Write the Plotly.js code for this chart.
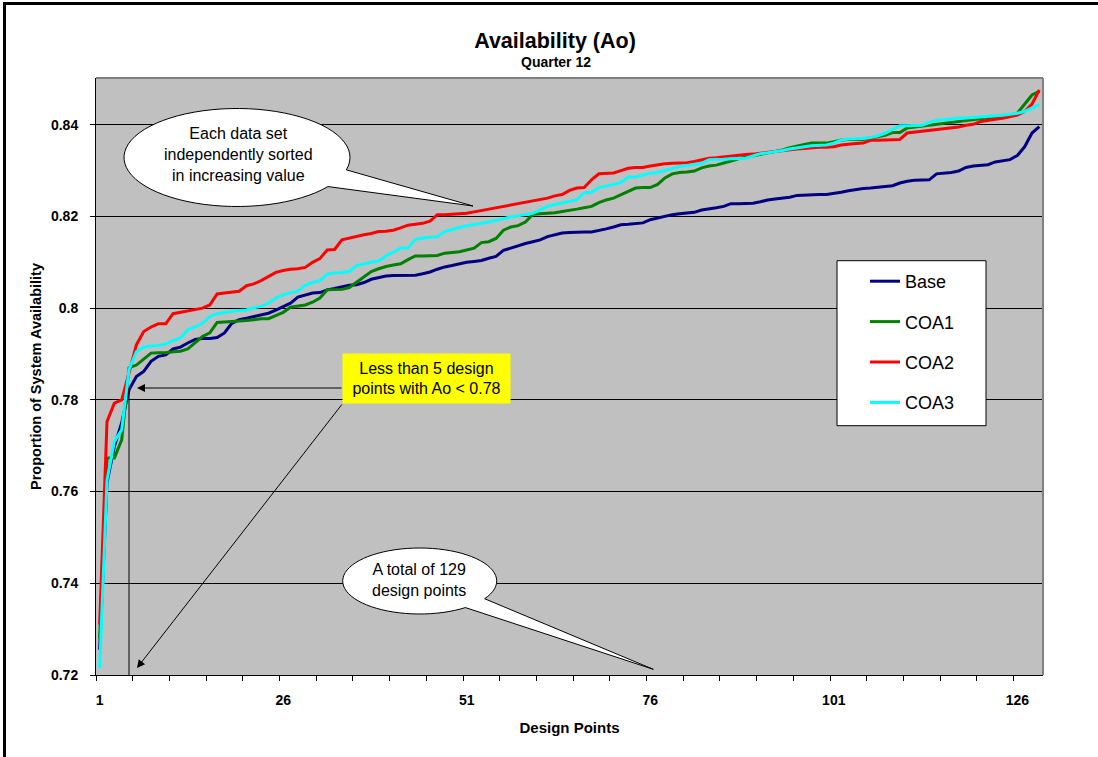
<!DOCTYPE html>
<html><head><meta charset="utf-8">
<script src="https://cdn.plot.ly/plotly-3.0.1.min.js"></script>
<style>
html,body{margin:0;padding:0;background:#fff;overflow:hidden;}
#chart{width:1098px;height:757px;}
#frame{position:absolute;left:3px;top:2px;width:1095px;height:755px;border-top:3px solid #000;border-left:3px solid #000;pointer-events:none;box-sizing:border-box;}
</style>
</head><body>
<div id="chart"></div><div id="frame"></div>
<script>
// ---------------- DATA ----------------
const designPoints = Array.from({length: 129}, (_, i) => i + 1);
const xTickLabels = [1, 26, 51, 76, 101, 126];
const yTickValues = [0.72, 0.74, 0.76, 0.78, 0.80, 0.82, 0.84];
const yTickLabels = ['0.72', '0.74', '0.76', '0.78', '0.8', '0.82', '0.84'];
const seriesNames = ['Base', 'COA1', 'COA2', 'COA3'];

const base = [0.7255,0.7620,0.7698,0.7750,0.7822,0.7851,0.7862,0.7884,0.7895,0.7898,
0.7911,0.7915,0.7924,0.7932,0.7934,0.7934,0.7936,0.7946,0.7967,0.7975,
0.7978,0.7982,0.7986,0.7989,0.7996,0.8004,0.8011,0.8024,0.8029,0.8033,
0.8034,0.8040,0.8043,0.8047,0.8050,0.8051,0.8056,0.8063,0.8067,0.8070,
0.8071,0.8071,0.8071,0.8072,0.8075,0.8079,0.8085,0.8090,0.8093,0.8097,
0.8100,0.8102,0.8104,0.8109,0.8113,0.8126,0.8131,0.8137,0.8141,0.8145,
0.8149,0.8156,0.8160,0.8164,0.8165,0.8166,0.8166,0.8166,0.8169,0.8173,
0.8177,0.8182,0.8183,0.8185,0.8186,0.8193,0.8197,0.8200,0.8204,0.8206,
0.8207,0.8209,0.8214,0.8216,0.8219,0.8222,0.8228,0.8228,0.8229,0.8229,
0.8232,0.8236,0.8238,0.8240,0.8242,0.8246,0.8247,0.8247,0.8248,0.8248,
0.8250,0.8253,0.8256,0.8259,0.8261,0.8262,0.8264,0.8265,0.8267,0.8273,
0.8277,0.8279,0.8280,0.8280,0.8293,0.8294,0.8296,0.8299,0.8307,0.8310,
0.8312,0.8313,0.8319,0.8322,0.8324,0.8333,0.8352,0.8382,0.8396];

const coa1 = [0.7280,0.7673,0.7673,0.7713,0.7870,0.7876,0.7889,0.7902,0.7903,0.7903,
0.7905,0.7906,0.7911,0.7924,0.7938,0.7946,0.7969,0.7970,0.7971,0.7971,
0.7973,0.7975,0.7977,0.7977,0.7984,0.7991,0.8002,0.8004,0.8007,0.8013,
0.8022,0.8040,0.8040,0.8041,0.8045,0.8057,0.8070,0.8080,0.8086,0.8091,
0.8094,0.8097,0.8106,0.8114,0.8114,0.8115,0.8115,0.8120,0.8122,0.8123,
0.8127,0.8131,0.8143,0.8145,0.8152,0.8170,0.8177,0.8180,0.8188,0.8205,
0.8206,0.8207,0.8208,0.8211,0.8213,0.8216,0.8219,0.8222,0.8230,0.8236,
0.8240,0.8247,0.8255,0.8262,0.8263,0.8263,0.8270,0.8284,0.8293,0.8296,
0.8297,0.8299,0.8306,0.8310,0.8312,0.8316,0.8321,0.8326,0.8329,0.8332,
0.8335,0.8338,0.8341,0.8345,0.8350,0.8354,0.8357,0.8360,0.8360,0.8360,
0.8363,0.8367,0.8368,0.8368,0.8368,0.8371,0.8374,0.8377,0.8383,0.8383,
0.8393,0.8395,0.8397,0.8400,0.8402,0.8404,0.8406,0.8408,0.8410,0.8411,
0.8413,0.8415,0.8417,0.8419,0.8421,0.8425,0.8444,0.8465,0.8473];

const coa2 = [0.7310,0.7753,0.7793,0.7800,0.7859,0.7920,0.7949,0.7959,0.7966,0.7966,
0.7988,0.7991,0.7994,0.7998,0.8000,0.8007,0.8031,0.8033,0.8035,0.8037,
0.8049,0.8053,0.8060,0.8069,0.8078,0.8082,0.8085,0.8086,0.8089,0.8100,
0.8108,0.8127,0.8128,0.8149,0.8153,0.8156,0.8160,0.8163,0.8167,0.8168,
0.8170,0.8175,0.8181,0.8183,0.8185,0.8190,0.8204,0.8204,0.8205,0.8205,
0.8207,0.8210,0.8213,0.8216,0.8219,0.8221,0.8224,0.8227,0.8230,0.8233,
0.8236,0.8240,0.8245,0.8248,0.8257,0.8262,0.8263,0.8280,0.8293,0.8294,
0.8295,0.8300,0.8305,0.8307,0.8307,0.8310,0.8313,0.8315,0.8316,0.8316,
0.8317,0.8320,0.8324,0.8327,0.8328,0.8330,0.8331,0.8333,0.8335,0.8336,
0.8338,0.8339,0.8341,0.8343,0.8345,0.8347,0.8348,0.8350,0.8351,0.8351,
0.8352,0.8356,0.8358,0.8359,0.8360,0.8366,0.8366,0.8367,0.8367,0.8368,
0.8382,0.8384,0.8386,0.8388,0.8390,0.8391,0.8393,0.8395,0.8399,0.8401,
0.8407,0.8410,0.8412,0.8414,0.8417,0.8421,0.8429,0.8445,0.8476];

const coa3 = [0.7215,0.7625,0.7709,0.7735,0.7866,0.7905,0.7915,0.7918,0.7918,0.7922,
0.7929,0.7935,0.7953,0.7959,0.7967,0.7982,0.7988,0.7991,0.7993,0.7995,
0.7996,0.8001,0.8004,0.8011,0.8022,0.8029,0.8034,0.8037,0.8050,0.8056,
0.8060,0.8074,0.8077,0.8078,0.8080,0.8093,0.8097,0.8100,0.8103,0.8114,
0.8122,0.8131,0.8131,0.8150,0.8153,0.8155,0.8156,0.8167,0.8172,0.8176,
0.8180,0.8182,0.8185,0.8188,0.8191,0.8195,0.8199,0.8201,0.8204,0.8207,
0.8214,0.8222,0.8226,0.8229,0.8232,0.8236,0.8252,0.8253,0.8263,0.8266,
0.8270,0.8274,0.8286,0.8286,0.8290,0.8294,0.8296,0.8300,0.8305,0.8309,
0.8311,0.8313,0.8316,0.8324,0.8324,0.8325,0.8326,0.8327,0.8327,0.8332,
0.8337,0.8339,0.8341,0.8344,0.8347,0.8350,0.8352,0.8354,0.8355,0.8356,
0.8360,0.8367,0.8369,0.8369,0.8370,0.8372,0.8376,0.8382,0.8390,0.8398,
0.8398,0.8399,0.8399,0.8405,0.8410,0.8411,0.8413,0.8414,0.8415,0.8416,
0.8418,0.8419,0.8420,0.8421,0.8423,0.8425,0.8429,0.8436,0.8444];

const seriesColors = ['#000080', '#008000', '#FF0000', '#00FFFF'];

// ---------------- LAYOUT HELPERS ----------------
const W = 1098, H = 757;
const M = {l: 96, r: 55, t: 78, b: 82};
const PW = W - M.l - M.r, PH = H - M.t - M.b;
const xp = px => (px - M.l) / PW;          // pixel -> paper x
const yp = py => (H - M.b - py) / PH;      // pixel -> paper y
const FONT = 'Liberation Sans, Arial, Helvetica, sans-serif';

function bubblePath(cx, cy, rx, ry, a1, a2, tipX, tipY) {
  // ellipse from angle a1 round to a2 (degrees, y down), then to the tail tip
  let d = '';
  const n = 72;
  const end = a2 + 360;
  for (let k = 0; k <= n; k++) {
    const t = (a1 + (end - a1) * k / n) * Math.PI / 180;
    const px = cx + rx * Math.cos(t), py = cy + ry * Math.sin(t);
    d += (k === 0 ? 'M' : 'L') + xp(px).toFixed(5) + ',' + yp(py).toFixed(5);
  }
  d += 'L' + xp(tipX).toFixed(5) + ',' + yp(tipY).toFixed(5) + 'Z';
  return d;
}

const seriesData = [base, coa1, coa2, coa3];
const traces = seriesData.map((vals, i) => ({
  type: 'scatter', mode: 'lines', name: seriesNames[i],
  x: designPoints, y: vals,
  line: {color: seriesColors[i], width: 3},
  legendgroup: seriesNames[i]
}));

const minorTicks = [];
for (let v = 0.5; v <= 129.5; v += 5) minorTicks.push(v);

const layout = {
  width: W, height: H, autosize: false,
  margin: {l: M.l, r: M.r, t: M.t, b: M.b, pad: 0},
  paper_bgcolor: '#FFFFFF', plot_bgcolor: '#C0C0C0',
  font: {family: FONT, color: '#000'},
  title: {text: 'Availability (Ao)', font: {family: FONT, size: 21.5, weight: 'bold', color: '#000'},
          xref: 'container', x: 555 / W, xanchor: 'center', yref: 'container', y: 1 - 40 / H, yanchor: 'middle'},
  showlegend: true,
  legend: {x: xp(865), y: yp(263), xanchor: 'left', yanchor: 'top', bgcolor: 'rgba(0,0,0,0)', borderwidth: 0,
           font: {family: FONT, size: 18, color: '#000'}, tracegroupgap: 14, traceorder: 'grouped', itemclick: false},
  xaxis: {
    range: [0.5, 129.5], tickmode: 'array', tickvals: xTickLabels, ticktext: xTickLabels.map(String),
    ticks: 'outside', ticklen: 12, tickcolor: 'rgba(0,0,0,0)',
    tickfont: {family: FONT, size: 14, weight: 'bold', color: '#000'},
    minor: {tickmode: 'array', tickvals: minorTicks, ticks: 'outside', ticklen: 5, tickwidth: 1, tickcolor: '#000', showgrid: false},
    showgrid: false, zeroline: false, showline: true, linecolor: '#000', linewidth: 1,
    title: {text: 'Design Points', font: {family: FONT, size: 15, weight: 'bold', color: '#000'}, standoff: 15},
    automargin: false, fixedrange: true
  },
  yaxis: {
    range: [0.72, 0.8502], tickmode: 'array', tickvals: yTickValues, ticktext: yTickLabels,
    ticks: 'outside', ticklen: 5, tickcolor: '#000', ticklabelstandoff: 9,
    tickfont: {family: FONT, size: 14, weight: 'bold', color: '#000'},
    showgrid: true, gridcolor: '#000', gridwidth: 1, zeroline: false, showline: true, linecolor: '#000', linewidth: 1,
    title: {text: 'Proportion of System Availability', font: {family: FONT, size: 14.5, weight: 'bold', color: '#000'}, standoff: 5},
    automargin: false, fixedrange: true
  },
  shapes: [
    // gray top/right border of the plot area
    {type: 'line', xref: 'paper', yref: 'paper', x0: 0, x1: 1, y0: 1, y1: 1, line: {color: '#808080', width: 2}},
    {type: 'line', xref: 'paper', yref: 'paper', x0: 1, x1: 1, y0: 0, y1: 1, line: {color: '#808080', width: 2}},
    // vertical marker line at design point 5
    {type: 'line', xref: 'paper', yref: 'paper', x0: xp(129), x1: xp(129), y0: yp(388), y1: 0, line: {color: '#000', width: 1}, layer: 'above'},
    // callout bubbles
    {type: 'path', xref: 'paper', yref: 'paper', path: bubblePath(237, 157.5, 113, 49, 36.4, 14.6, 473, 206),
     fillcolor: '#FFFFFF', line: {color: '#000', width: 1}, layer: 'above'},
    {type: 'path', xref: 'paper', yref: 'paper', path: bubblePath(419.7, 581, 77, 33, 53.6, 32.5, 653.3, 669.3),
     fillcolor: '#FFFFFF', line: {color: '#000', width: 1}, layer: 'above'},
    // legend box
    {type: 'rect', xref: 'paper', yref: 'paper', x0: xp(837), x1: xp(986), y0: yp(425.7), y1: yp(260.7),
     fillcolor: '#FFFFFF', line: {color: '#000', width: 1}, layer: 'above'}
  ],
  annotations: [
    {xref: 'paper', yref: 'paper', x: xp(556), y: yp(62), text: 'Quarter 12', showarrow: false,
     xanchor: 'center', yanchor: 'middle', font: {family: FONT, size: 14, weight: 'bold', color: '#000'}},
    {xref: 'paper', yref: 'paper', x: xp(238), y: yp(154), text: 'Each data set<br>independently sorted<br>in increasing value',
     showarrow: false, xanchor: 'center', yanchor: 'middle', align: 'center', font: {family: FONT, size: 16, color: '#000'}},
    {xref: 'paper', yref: 'paper', x: xp(419), y: yp(580), text: 'A total of 129<br>design points',
     showarrow: false, xanchor: 'center', yanchor: 'middle', align: 'center', font: {family: FONT, size: 16, color: '#000'}},
    // arrows
    {xref: 'paper', yref: 'paper', x: xp(137), y: yp(388), ax: 206, ay: 0, axref: 'pixel', ayref: 'pixel', text: '',
     showarrow: true, arrowhead: 2, arrowsize: 1.6, arrowwidth: 1, arrowcolor: '#000'},
    {xref: 'paper', yref: 'paper', x: xp(137), y: yp(668), ax: 206, ay: -265, axref: 'pixel', ayref: 'pixel', text: '',
     showarrow: true, arrowhead: 2, arrowsize: 1.6, arrowwidth: 1, arrowcolor: '#000'},
    {xref: 'paper', yref: 'paper', x: xp(426.7), y: yp(378.7), text: 'Less than 5 design<br>points with Ao &lt; 0.78',
     showarrow: false, xanchor: 'center', yanchor: 'middle', align: 'center', width: 163, height: 45, borderpad: 2,
     bgcolor: '#FFFF00', font: {family: FONT, size: 16, color: '#000'}}
  ]
};

Plotly.newPlot('chart', traces, layout, {displayModeBar: false, staticPlot: true});
</script>
</body></html>
